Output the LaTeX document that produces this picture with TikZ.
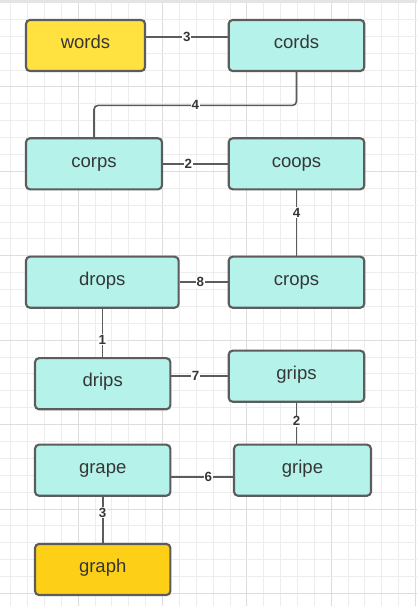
\documentclass[tikz,border=0pt]{standalone}
\usepackage{fontspec}
\setmainfont{Liberation Sans}
\usetikzlibrary{calc}
\pgfdeclarelayer{gridlayer}
\pgfdeclarelayer{edgelayer}
\pgfsetlayers{gridlayer,edgelayer,main}
\definecolor{gridminor}{HTML}{EDEDED}
\definecolor{gridmajor}{HTML}{DDDDDD}
\definecolor{topband}{HTML}{E4E4E4}
\definecolor{cyanfill}{HTML}{B5F3EA}
\definecolor{yellowA}{HTML}{FFE13F}
\definecolor{yellowB}{HTML}{FDD017}
\definecolor{edgecol}{HTML}{5C5C5C}
\definecolor{textcol}{HTML}{363636}
\tikzset{
  wordbox/.style={draw=edgecol, line width=1.6pt, rounded corners=3pt, fill=cyanfill,
    minimum height=38.3pt, inner sep=0pt, text=textcol, text height=0.72em, text depth=0.24em,
    font=\fontsize{13.9pt}{16pt}\selectfont},
  startbox/.style={wordbox, fill=yellowA},
  endbox/.style={wordbox, fill=yellowB},
  link/.style={draw=edgecol, line width=1.2pt},
  lbl/.style={fill=white, inner sep=0.6pt, text=textcol,
    font=\fontsize{10pt}{11pt}\selectfont\bfseries}
}
\begin{document}
\begin{tikzpicture}[x=0.75pt,y=-0.75pt]
\useasboundingbox (0,0) rectangle (417,606);
\begin{pgfonlayer}{gridlayer}
\fill[white] (0,0) rectangle (417,606);
\foreach \k in {0,...,24}{
  \pgfmathsetmacro{\gx}{10.7+16.87*\k}
  \pgfmathtruncatemacro{\m}{mod(\k,5)}
  \ifnum\m=4
    \draw[gridmajor, line width=0.75pt] (\gx,0) -- (\gx,606);
  \else
    \draw[gridminor, line width=0.75pt] (\gx,0) -- (\gx,606);
  \fi
}
\foreach \k in {1,...,35}{
  \pgfmathsetmacro{\gy}{2.6+16.88*\k}
  \pgfmathtruncatemacro{\m}{mod(\k,5)}
  \ifnum\m=0
    \draw[gridmajor, line width=0.75pt] (0,\gy) -- (417,\gy);
  \else
    \draw[gridminor, line width=0.75pt] (0,\gy) -- (417,\gy);
  \fi
}
\fill[topband] (0,0) rectangle (417,3);
\end{pgfonlayer}

% nodes
\node[startbox, minimum width=89.3pt]  (words) at (85.5,45.5)  {words};
\node[wordbox,  minimum width=101.7pt] (cords) at (296.5,45.5) {cords};
\node[wordbox,  minimum width=102pt]   (corps) at (94,163.8)   {corps};
\node[wordbox,  minimum width=101.7pt] (coops) at (296.5,163.8){coops};
\node[wordbox,  minimum width=114.5pt] (drops) at (102.3,282.2){drops};
\node[wordbox,  minimum width=101.7pt] (crops) at (296.5,282.2){crops};
\node[wordbox,  minimum width=101.5pt] (drips) at (102.7,383.7){drips};
\node[wordbox,  minimum width=101.7pt] (grips) at (296.5,376.2){grips};
\node[wordbox,  minimum width=101.5pt] (grape) at (102.7,470.2){grape};
\node[wordbox,  minimum width=102.7pt] (gripe) at (302.5,470.2){gripe};
\node[endbox,   minimum width=101.5pt] (graph) at (102.7,569.5){graph};

% connectors
\begin{pgfonlayer}{edgelayer}
\draw[link] ($(words.east)+(0,-8.2)$) -- node[lbl, pos=0.5]{3} ($(cords.west)+(0,-8.2)$);
\coordinate (bendR) at ($(cords.south)+(0,33.3)$);
\coordinate (bendL) at (corps.north |- bendR);
\draw[link, rounded corners=3pt] (cords.south) -- (bendR) -- (bendL) -- (corps.north);
\node[lbl] (l4a) at ($(bendR)!0.5!(bendL)$) {4};
\draw[link] (corps.east) -- node[lbl, pos=0.39]{2} (coops.west);
\draw[link] (coops.south) -- node[lbl, pos=0.34]{4} (crops.north);
\draw[link] (drops.east) -- node[lbl, pos=0.43]{8} (crops.west);
\draw[link] (drops.south) -- node[lbl, pos=0.64]{1} (drips.north -| drops.south);
\draw[link] (drips.east |- grips.west) -- node[lbl, pos=0.43]{7} (grips.west);
\draw[link] (grips.south) -- node[lbl, pos=0.45]{2} (gripe.north -| grips.south);
\draw[link] ($(grape.east)+(0,6.5)$) -- node[lbl, pos=0.6]{6} ($(gripe.west)+(0,6.5)$);
\draw[link] (grape.south) -- node[lbl, pos=0.35]{3} (graph.north);
\end{pgfonlayer}
\end{tikzpicture}
\end{document}
